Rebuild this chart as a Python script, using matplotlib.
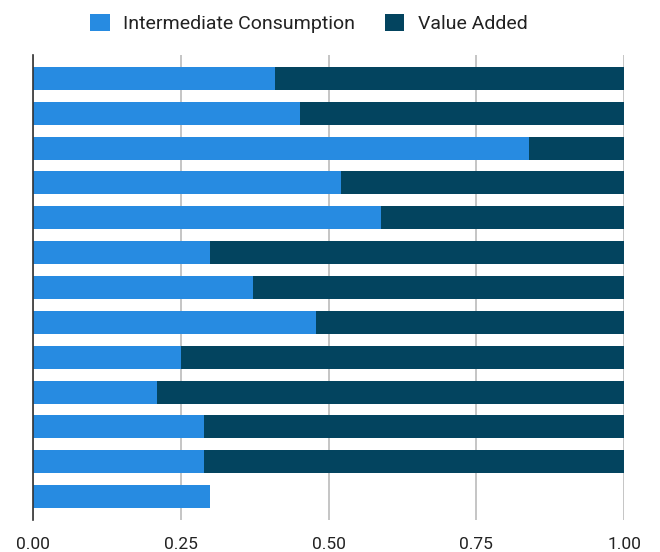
import matplotlib
matplotlib.use('Agg')
import matplotlib.pyplot as plt
import numpy as np

plt.rcParams['font.family'] = ['Roboto', 'DejaVu Sans']

# share of output per row (intermediate consumption + value added = 1)
intermediate = [0.41, 0.452, 0.84, 0.521, 0.589, 0.30, 0.372, 0.479, 0.25, 0.21, 0.289, 0.289, 0.30]
value_added = [0.59, 0.548, 0.16, 0.479, 0.411, 0.70, 0.628, 0.521, 0.75, 0.79, 0.711, 0.711, 0.0]
xticks = [0.0, 0.25, 0.5, 0.75, 1.0]
xtick_labels = ['0.00', '0.25', '0.50', '0.75', '1.00']

c_ic = '#278BE1'
c_va = '#03445F'

fig = plt.figure(figsize=(6.6, 5.52), dpi=100)
ax = fig.add_axes([0.05, 0.058, 0.8955, 0.8424])

y = np.arange(len(intermediate))
ax.barh(y, intermediate, height=0.66, color=c_ic, label='Intermediate Consumption', zorder=3)
ax.barh(y, value_added, left=intermediate, height=0.66, color=c_va, label='Value Added', zorder=3)

ax.set_ylim(len(y) - 1 + 0.67, -0.67)
ax.set_xlim(0, 1)
ax.set_yticks([])
ax.set_xticks(xticks)
ax.set_xticklabels(xtick_labels, fontsize=12.5, color='#222222')
ax.tick_params(axis='x', length=0, pad=12)
ax.grid(axis='x', color='#bbbbbb', lw=1.2, zorder=0)
for s in ['top', 'right', 'bottom']:
    ax.spines[s].set_visible(False)
ax.spines['left'].set_color('#333333')
ax.spines['left'].set_linewidth(1.2)
ax.spines['left'].set_zorder(4)

fig.legend(loc='center', bbox_to_anchor=(0.468, 0.957), ncol=2, frameon=False,
           fontsize=14, handlelength=1.0, handleheight=1.0, handletextpad=0.7,
           columnspacing=1.5, labelcolor='#222222')

fig.savefig('out.png', dpi=100)
